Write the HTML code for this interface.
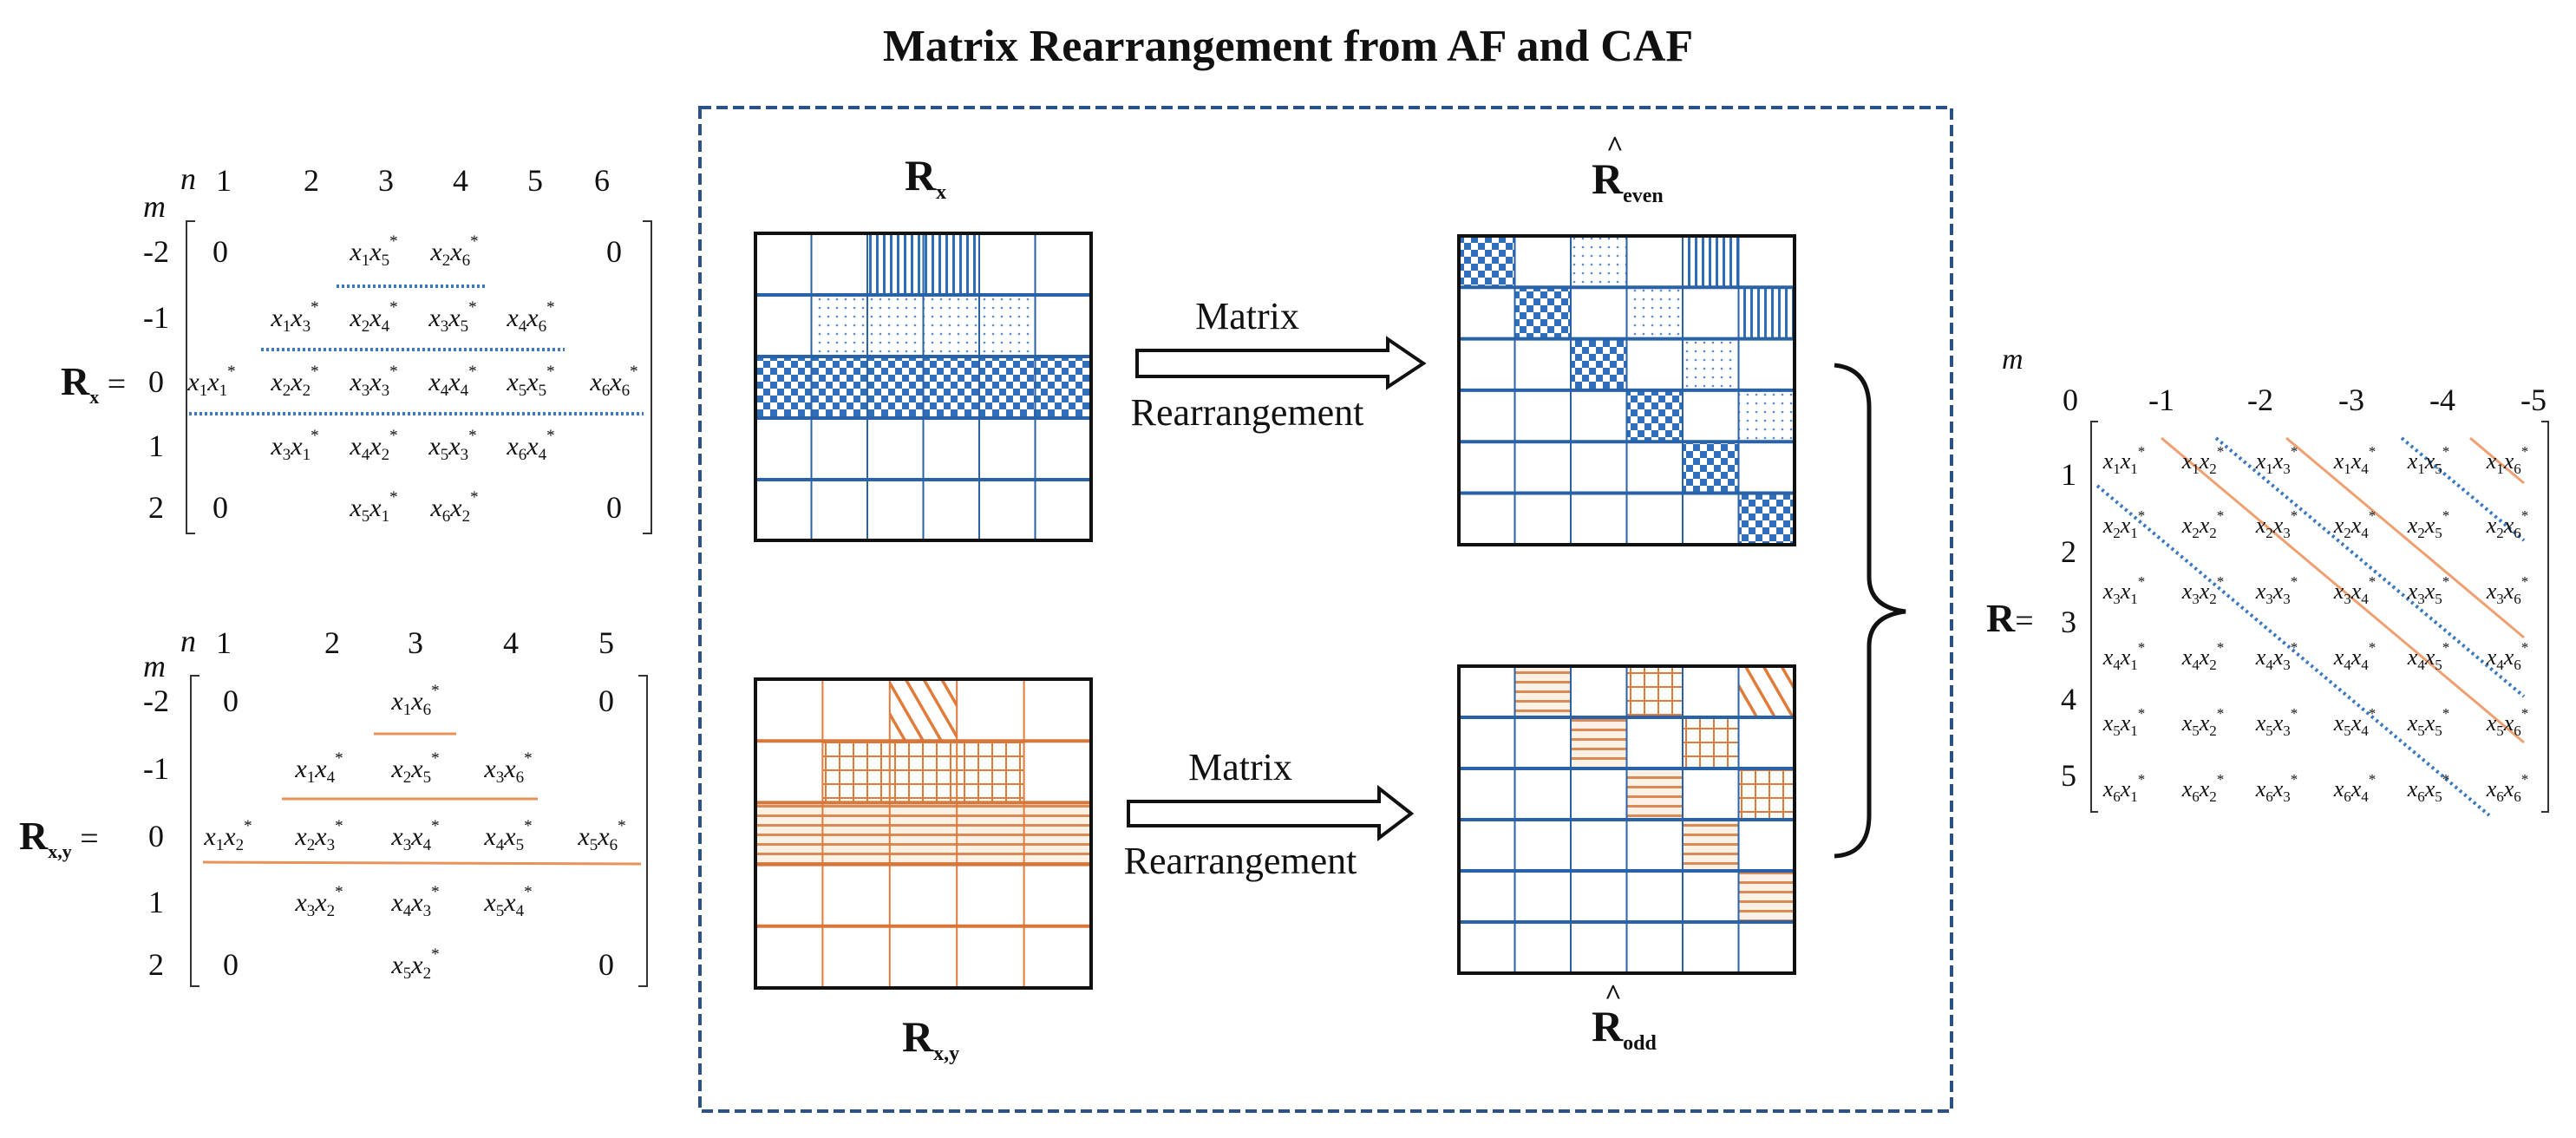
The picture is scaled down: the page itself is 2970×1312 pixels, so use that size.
<!DOCTYPE html>
<html><head><meta charset="utf-8"><style>
html,body{margin:0;padding:0;background:#fff}
svg{display:block}
text{font-family:"Liberation Serif",serif;fill:#111}
.e{font-style:italic;font-size:30px;text-anchor:middle}
.s{font-size:19px;font-style:normal}
.h{font-size:36px;text-anchor:middle}
.f{font-style:italic;font-size:26px;text-anchor:middle}
.fs{font-size:17px;font-style:normal}
</style></head><body>
<svg width="2970" height="1312" viewBox="0 0 2970 1312" xmlns="http://www.w3.org/2000/svg">
<defs>
<pattern id="ck" width="16" height="16" patternUnits="userSpaceOnUse"><rect width="16" height="16" fill="#fff"/><rect width="8" height="8" fill="#2f6fb8"/><rect x="8" y="8" width="8" height="8" fill="#2f6fb8"/></pattern>
<pattern id="vs" width="8" height="8" patternUnits="userSpaceOnUse"><rect width="8" height="8" fill="#fff"/><rect x="2" width="3" height="8" fill="#2f6fb8"/></pattern>
<pattern id="dt" width="10" height="10" patternUnits="userSpaceOnUse"><rect width="10" height="10" fill="#fff"/><circle cx="5" cy="5" r="1.3" fill="#5a8cc8"/></pattern>
<pattern id="hs" width="11" height="11" patternUnits="userSpaceOnUse"><rect width="11" height="11" fill="#fdf1e6"/><rect y="4" width="11" height="3" fill="#d98a55"/></pattern>
<pattern id="gr" width="16" height="16" patternUnits="userSpaceOnUse"><rect width="16" height="16" fill="#fff"/><rect x="7" width="2" height="16" fill="#e07b39"/><rect y="7" width="16" height="2" fill="#e07b39"/></pattern>
<pattern id="dg" width="18" height="18" patternUnits="userSpaceOnUse" patternTransform="rotate(-30)"><rect width="18" height="18" fill="#fff"/><rect x="7" width="3.5" height="18" fill="#e07b39"/></pattern>
</defs>

<text x="1485" y="70" style="font-size:52px;font-weight:bold;text-anchor:middle">Matrix Rearrangement from AF and CAF</text>

<rect x="807" y="124" width="1443" height="1157" fill="none" stroke="#2a5288" stroke-width="4" stroke-dasharray="13,6"/>

<!-- Rx grid -->
<text x="1043" y="219" style="font-size:50px;font-weight:bold">R<tspan dy="10" style="font-size:24px">x</tspan></text>
<rect x="1000" y="269" width="129" height="71" fill="url(#vs)"/>
<rect x="935.5" y="340" width="258" height="71" fill="url(#dt)"/>
<rect x="871" y="411" width="387" height="71" fill="url(#ck)"/>
<g stroke="#2a62a8" stroke-width="2"><line x1="935.5" y1="269" x2="935.5" y2="623"/><line x1="1000" y1="269" x2="1000" y2="623"/><line x1="1064.5" y1="269" x2="1064.5" y2="623"/><line x1="1129" y1="269" x2="1129" y2="623"/><line x1="1193.5" y1="269" x2="1193.5" y2="623"/></g>
<g stroke="#2a62a8" stroke-width="4"><line x1="871" y1="340" x2="1258" y2="340"/><line x1="871" y1="411" x2="1258" y2="411"/><line x1="871" y1="482" x2="1258" y2="482"/><line x1="871" y1="553" x2="1258" y2="553"/></g>
<rect x="871" y="269" width="387" height="354" fill="none" stroke="#111" stroke-width="4"/>

<!-- Reven -->
<text x="1835" y="223" style="font-size:50px;font-weight:bold">R<tspan dy="10" style="font-size:24px">even</tspan></text>
<text x="1852" y="180" style="font-size:34px;font-weight:bold">^</text>
<rect x="1682" y="272" width="64.5" height="59.3" fill="url(#ck)"/>
<rect x="1746.5" y="331.3" width="64.5" height="59.3" fill="url(#ck)"/>
<rect x="1811" y="390.6" width="64.5" height="59.3" fill="url(#ck)"/>
<rect x="1875.5" y="449.9" width="64.5" height="59.3" fill="url(#ck)"/>
<rect x="1940" y="509.2" width="64.5" height="59.3" fill="url(#ck)"/>
<rect x="2004.5" y="568.5" width="64.5" height="59.5" fill="url(#ck)"/>
<rect x="1811" y="272" width="64.5" height="59.3" fill="url(#dt)"/>
<rect x="1875.5" y="331.3" width="64.5" height="59.3" fill="url(#dt)"/>
<rect x="1940" y="390.6" width="64.5" height="59.3" fill="url(#dt)"/>
<rect x="2004.5" y="449.9" width="64.5" height="59.3" fill="url(#dt)"/>
<rect x="1940" y="272" width="64.5" height="59.3" fill="url(#vs)"/>
<rect x="2004.5" y="331.3" width="64.5" height="59.3" fill="url(#vs)"/>
<g stroke="#2a62a8" stroke-width="2"><line x1="1746.5" y1="272" x2="1746.5" y2="628"/><line x1="1811" y1="272" x2="1811" y2="628"/><line x1="1875.5" y1="272" x2="1875.5" y2="628"/><line x1="1940" y1="272" x2="1940" y2="628"/><line x1="2004.5" y1="272" x2="2004.5" y2="628"/></g>
<g stroke="#2a62a8" stroke-width="4"><line x1="1682" y1="331.3" x2="2069" y2="331.3"/><line x1="1682" y1="390.6" x2="2069" y2="390.6"/><line x1="1682" y1="449.9" x2="2069" y2="449.9"/><line x1="1682" y1="509.2" x2="2069" y2="509.2"/><line x1="1682" y1="568.5" x2="2069" y2="568.5"/></g>
<rect x="1682" y="272" width="387" height="356" fill="none" stroke="#111" stroke-width="4"/>

<!-- arrows -->
<path d="M1311,404 L1600,404 L1600,391 L1641,419 L1600,446 L1600,434 L1311,434 Z" fill="#fff" stroke="#111" stroke-width="4"/>
<text x="1438" y="379" style="font-size:44px;text-anchor:middle">Matrix</text>
<text x="1438" y="490" style="font-size:44px;text-anchor:middle">Rearrangement</text>
<path d="M1301,924 L1590,924 L1590,909 L1627,938 L1590,966 L1590,952 L1301,952 Z" fill="#fff" stroke="#111" stroke-width="4"/>
<text x="1430" y="899" style="font-size:44px;text-anchor:middle">Matrix</text>
<text x="1430" y="1007" style="font-size:44px;text-anchor:middle">Rearrangement</text>

<!-- Rxy grid -->
<rect x="1025.8" y="783" width="77.4" height="71.2" fill="url(#dg)"/>
<rect x="948.4" y="854.2" width="232.2" height="71.2" fill="url(#gr)"/>
<rect x="871" y="925.4" width="387" height="71.2" fill="url(#hs)"/>
<g stroke="#e07b39" stroke-width="2"><line x1="948.4" y1="783" x2="948.4" y2="1139"/><line x1="1025.8" y1="783" x2="1025.8" y2="1139"/><line x1="1103.2" y1="783" x2="1103.2" y2="1139"/><line x1="1180.6" y1="783" x2="1180.6" y2="1139"/></g>
<g stroke="#d8763a" stroke-width="4"><line x1="871" y1="854.2" x2="1258" y2="854.2"/><line x1="871" y1="925.4" x2="1258" y2="925.4"/><line x1="871" y1="996.6" x2="1258" y2="996.6"/><line x1="871" y1="1067.8" x2="1258" y2="1067.8"/></g>
<rect x="871" y="783" width="387" height="356" fill="none" stroke="#111" stroke-width="4"/>
<text x="1040" y="1212" style="font-size:50px;font-weight:bold">R<tspan dy="10" style="font-size:24px">x,y</tspan></text>

<!-- Rodd -->
<rect x="1746.5" y="768" width="64.5" height="59" fill="url(#hs)"/>
<rect x="1811" y="827" width="64.5" height="59" fill="url(#hs)"/>
<rect x="1875.5" y="886" width="64.5" height="59" fill="url(#hs)"/>
<rect x="1940" y="945" width="64.5" height="59" fill="url(#hs)"/>
<rect x="2004.5" y="1004" width="64.5" height="59" fill="url(#hs)"/>
<rect x="1875.5" y="768" width="64.5" height="59" fill="url(#gr)"/>
<rect x="1940" y="827" width="64.5" height="59" fill="url(#gr)"/>
<rect x="2004.5" y="886" width="64.5" height="59" fill="url(#gr)"/>
<rect x="2004.5" y="768" width="64.5" height="59" fill="url(#dg)"/>
<g stroke="#2a62a8" stroke-width="2"><line x1="1746.5" y1="768" x2="1746.5" y2="1122"/><line x1="1811" y1="768" x2="1811" y2="1122"/><line x1="1875.5" y1="768" x2="1875.5" y2="1122"/><line x1="1940" y1="768" x2="1940" y2="1122"/><line x1="2004.5" y1="768" x2="2004.5" y2="1122"/></g>
<g stroke="#2a62a8" stroke-width="4"><line x1="1682" y1="827" x2="2069" y2="827"/><line x1="1682" y1="886" x2="2069" y2="886"/><line x1="1682" y1="945" x2="2069" y2="945"/><line x1="1682" y1="1004" x2="2069" y2="1004"/><line x1="1682" y1="1063" x2="2069" y2="1063"/></g>
<rect x="1682" y="768" width="387" height="354" fill="none" stroke="#111" stroke-width="4"/>
<text x="1835" y="1200" style="font-size:50px;font-weight:bold">R<tspan dy="10" style="font-size:24px">odd</tspan></text>
<text x="1850" y="1158" style="font-size:34px;font-weight:bold">^</text>

<!-- brace -->
<path d="M2115,421 Q2155,425 2155,470 L2155,665 Q2155,700 2197,705 Q2155,710 2155,745 L2155,940 Q2155,985 2115,987" fill="none" stroke="#111" stroke-width="5"/>

<!-- Left Rx matrix -->
<text x="208" y="218" style="font-size:36px;font-style:italic">n</text>
<text x="165" y="250" style="font-size:36px;font-style:italic">m</text>
<text class="h" x="258" y="220">1</text><text class="h" x="359" y="220">2</text><text class="h" x="445" y="220">3</text><text class="h" x="531" y="220">4</text><text class="h" x="617" y="220">5</text><text class="h" x="694" y="220">6</text>
<text class="h" x="180" y="302">-2</text><text class="h" x="180" y="378">-1</text><text class="h" x="180" y="452">0</text><text class="h" x="180" y="526">1</text><text class="h" x="180" y="597">2</text>
<text x="70" y="455" style="font-size:46px;font-weight:bold">R<tspan dy="10" style="font-size:22px">x</tspan><tspan dy="-10" style="font-weight:normal;font-size:38px"> =</tspan></text>
<path d="M225,255 L215,255 L215,615 L225,615" fill="none" stroke="#333" stroke-width="2"/>
<path d="M741,255 L751,255 L751,615 L741,615" fill="none" stroke="#333" stroke-width="2"/>
<text class="h" x="254" y="302">0</text><text class="h" x="708" y="302">0</text><text class="h" x="254" y="597">0</text><text class="h" x="708" y="597">0</text>
<g class="e">
<text class="e" x="431" y="300">x<tspan dy="6" class="s">1</tspan><tspan dy="-6">x</tspan><tspan dy="6" class="s">5</tspan><tspan dy="-22" class="s">*</tspan></text>
<text class="e" x="524" y="300">x<tspan dy="6" class="s">2</tspan><tspan dy="-6">x</tspan><tspan dy="6" class="s">6</tspan><tspan dy="-22" class="s">*</tspan></text>
<text class="e" x="340" y="376">x<tspan dy="6" class="s">1</tspan><tspan dy="-6">x</tspan><tspan dy="6" class="s">3</tspan><tspan dy="-22" class="s">*</tspan></text>
<text class="e" x="431" y="376">x<tspan dy="6" class="s">2</tspan><tspan dy="-6">x</tspan><tspan dy="6" class="s">4</tspan><tspan dy="-22" class="s">*</tspan></text>
<text class="e" x="522" y="376">x<tspan dy="6" class="s">3</tspan><tspan dy="-6">x</tspan><tspan dy="6" class="s">5</tspan><tspan dy="-22" class="s">*</tspan></text>
<text class="e" x="612" y="376">x<tspan dy="6" class="s">4</tspan><tspan dy="-6">x</tspan><tspan dy="6" class="s">6</tspan><tspan dy="-22" class="s">*</tspan></text>
<text class="e" x="244" y="450">x<tspan dy="6" class="s">1</tspan><tspan dy="-6">x</tspan><tspan dy="6" class="s">1</tspan><tspan dy="-22" class="s">*</tspan></text>
<text class="e" x="340" y="450">x<tspan dy="6" class="s">2</tspan><tspan dy="-6">x</tspan><tspan dy="6" class="s">2</tspan><tspan dy="-22" class="s">*</tspan></text>
<text class="e" x="431" y="450">x<tspan dy="6" class="s">3</tspan><tspan dy="-6">x</tspan><tspan dy="6" class="s">3</tspan><tspan dy="-22" class="s">*</tspan></text>
<text class="e" x="522" y="450">x<tspan dy="6" class="s">4</tspan><tspan dy="-6">x</tspan><tspan dy="6" class="s">4</tspan><tspan dy="-22" class="s">*</tspan></text>
<text class="e" x="612" y="450">x<tspan dy="6" class="s">5</tspan><tspan dy="-6">x</tspan><tspan dy="6" class="s">5</tspan><tspan dy="-22" class="s">*</tspan></text>
<text class="e" x="708" y="450">x<tspan dy="6" class="s">6</tspan><tspan dy="-6">x</tspan><tspan dy="6" class="s">6</tspan><tspan dy="-22" class="s">*</tspan></text>
<text class="e" x="340" y="524">x<tspan dy="6" class="s">3</tspan><tspan dy="-6">x</tspan><tspan dy="6" class="s">1</tspan><tspan dy="-22" class="s">*</tspan></text>
<text class="e" x="431" y="524">x<tspan dy="6" class="s">4</tspan><tspan dy="-6">x</tspan><tspan dy="6" class="s">2</tspan><tspan dy="-22" class="s">*</tspan></text>
<text class="e" x="522" y="524">x<tspan dy="6" class="s">5</tspan><tspan dy="-6">x</tspan><tspan dy="6" class="s">3</tspan><tspan dy="-22" class="s">*</tspan></text>
<text class="e" x="612" y="524">x<tspan dy="6" class="s">6</tspan><tspan dy="-6">x</tspan><tspan dy="6" class="s">4</tspan><tspan dy="-22" class="s">*</tspan></text>
<text class="e" x="431" y="595">x<tspan dy="6" class="s">5</tspan><tspan dy="-6">x</tspan><tspan dy="6" class="s">1</tspan><tspan dy="-22" class="s">*</tspan></text>
<text class="e" x="524" y="595">x<tspan dy="6" class="s">6</tspan><tspan dy="-6">x</tspan><tspan dy="6" class="s">2</tspan><tspan dy="-22" class="s">*</tspan></text>
</g>
<g stroke="#3a78c0" stroke-width="4" stroke-dasharray="3,3"><line x1="388" y1="330" x2="560" y2="330"/><line x1="301" y1="403" x2="651" y2="403"/><line x1="218" y1="477" x2="742" y2="477"/></g>

<!-- Left Rxy matrix -->
<text x="208" y="751" style="font-size:36px;font-style:italic">n</text>
<text x="165" y="780" style="font-size:36px;font-style:italic">m</text>
<text class="h" x="258" y="753">1</text><text class="h" x="383" y="753">2</text><text class="h" x="479" y="753">3</text><text class="h" x="589" y="753">4</text><text class="h" x="699" y="753">5</text>
<text class="h" x="180" y="820">-2</text><text class="h" x="180" y="898">-1</text><text class="h" x="180" y="976">0</text><text class="h" x="180" y="1052">1</text><text class="h" x="180" y="1124">2</text>
<text x="22" y="979" style="font-size:46px;font-weight:bold">R<tspan dy="10" style="font-size:22px">x,y</tspan><tspan dy="-10" style="font-weight:normal;font-size:38px"> =</tspan></text>
<path d="M230,779 L220,779 L220,1137 L230,1137" fill="none" stroke="#333" stroke-width="2"/>
<path d="M736,779 L746,779 L746,1137 L736,1137" fill="none" stroke="#333" stroke-width="2"/>
<text class="h" x="266" y="820">0</text><text class="h" x="699" y="820">0</text><text class="h" x="266" y="1124">0</text><text class="h" x="699" y="1124">0</text>
<text class="e" x="479" y="818">x<tspan dy="6" class="s">1</tspan><tspan dy="-6">x</tspan><tspan dy="6" class="s">6</tspan><tspan dy="-22" class="s">*</tspan></text>
<text class="e" x="368" y="896">x<tspan dy="6" class="s">1</tspan><tspan dy="-6">x</tspan><tspan dy="6" class="s">4</tspan><tspan dy="-22" class="s">*</tspan></text>
<text class="e" x="479" y="896">x<tspan dy="6" class="s">2</tspan><tspan dy="-6">x</tspan><tspan dy="6" class="s">5</tspan><tspan dy="-22" class="s">*</tspan></text>
<text class="e" x="586" y="896">x<tspan dy="6" class="s">3</tspan><tspan dy="-6">x</tspan><tspan dy="6" class="s">6</tspan><tspan dy="-22" class="s">*</tspan></text>
<text class="e" x="263" y="974">x<tspan dy="6" class="s">1</tspan><tspan dy="-6">x</tspan><tspan dy="6" class="s">2</tspan><tspan dy="-22" class="s">*</tspan></text>
<text class="e" x="368" y="974">x<tspan dy="6" class="s">2</tspan><tspan dy="-6">x</tspan><tspan dy="6" class="s">3</tspan><tspan dy="-22" class="s">*</tspan></text>
<text class="e" x="479" y="974">x<tspan dy="6" class="s">3</tspan><tspan dy="-6">x</tspan><tspan dy="6" class="s">4</tspan><tspan dy="-22" class="s">*</tspan></text>
<text class="e" x="586" y="974">x<tspan dy="6" class="s">4</tspan><tspan dy="-6">x</tspan><tspan dy="6" class="s">5</tspan><tspan dy="-22" class="s">*</tspan></text>
<text class="e" x="694" y="974">x<tspan dy="6" class="s">5</tspan><tspan dy="-6">x</tspan><tspan dy="6" class="s">6</tspan><tspan dy="-22" class="s">*</tspan></text>
<text class="e" x="368" y="1050">x<tspan dy="6" class="s">3</tspan><tspan dy="-6">x</tspan><tspan dy="6" class="s">2</tspan><tspan dy="-22" class="s">*</tspan></text>
<text class="e" x="479" y="1050">x<tspan dy="6" class="s">4</tspan><tspan dy="-6">x</tspan><tspan dy="6" class="s">3</tspan><tspan dy="-22" class="s">*</tspan></text>
<text class="e" x="586" y="1050">x<tspan dy="6" class="s">5</tspan><tspan dy="-6">x</tspan><tspan dy="6" class="s">4</tspan><tspan dy="-22" class="s">*</tspan></text>
<text class="e" x="479" y="1122">x<tspan dy="6" class="s">5</tspan><tspan dy="-6">x</tspan><tspan dy="6" class="s">2</tspan><tspan dy="-22" class="s">*</tspan></text>
<g stroke="#e8925a" stroke-width="3"><line x1="431" y1="846" x2="526" y2="846"/><line x1="325" y1="921" x2="620" y2="921"/><line x1="234" y1="994" x2="739" y2="996"/></g>

<!-- Right R matrix -->
<text x="2308" y="425" style="font-size:34px;font-style:italic">m</text>
<text class="h" x="2387" y="473">0</text><text class="h" x="2492" y="473">-1</text><text class="h" x="2606" y="473">-2</text><text class="h" x="2711" y="473">-3</text><text class="h" x="2816" y="473">-4</text><text class="h" x="2921" y="473">-5</text>
<text class="h" x="2385" y="559">1</text><text class="h" x="2385" y="648">2</text><text class="h" x="2385" y="729">3</text><text class="h" x="2385" y="818">4</text><text class="h" x="2385" y="906">5</text>
<text x="2290" y="728" style="font-size:46px;font-weight:bold">R<tspan style="font-weight:normal;font-size:38px">=</tspan></text>
<path d="M2419,486 L2411,486 L2411,936 L2419,936" fill="none" stroke="#333" stroke-width="2"/>
<path d="M2930,486 L2938,486 L2938,936 L2930,936" fill="none" stroke="#333" stroke-width="2"/>
<g stroke="#3a78c0" stroke-width="4" stroke-dasharray="3,4"><line x1="2418" y1="560" x2="2870" y2="940"/><line x1="2555" y1="505" x2="2910" y2="803"/><line x1="2769" y1="505" x2="2910" y2="623"/></g>
<g stroke="#f0a070" stroke-width="3"><line x1="2492" y1="505" x2="2910" y2="856"/><line x1="2636" y1="505" x2="2910" y2="735"/><line x1="2848" y1="505" x2="2910" y2="557"/></g>
<g>
<text class="f" x="2449" y="540">x<tspan dy="6" class="fs">1</tspan><tspan dy="-6">x</tspan><tspan dy="6" class="fs">1</tspan><tspan dy="-20" class="fs">*</tspan></text>
<text class="f" x="2540" y="540">x<tspan dy="6" class="fs">1</tspan><tspan dy="-6">x</tspan><tspan dy="6" class="fs">2</tspan><tspan dy="-20" class="fs">*</tspan></text>
<text class="f" x="2625" y="540">x<tspan dy="6" class="fs">1</tspan><tspan dy="-6">x</tspan><tspan dy="6" class="fs">3</tspan><tspan dy="-20" class="fs">*</tspan></text>
<text class="f" x="2715" y="540">x<tspan dy="6" class="fs">1</tspan><tspan dy="-6">x</tspan><tspan dy="6" class="fs">4</tspan><tspan dy="-20" class="fs">*</tspan></text>
<text class="f" x="2800" y="540">x<tspan dy="6" class="fs">1</tspan><tspan dy="-6">x</tspan><tspan dy="6" class="fs">5</tspan><tspan dy="-20" class="fs">*</tspan></text>
<text class="f" x="2891" y="540">x<tspan dy="6" class="fs">1</tspan><tspan dy="-6">x</tspan><tspan dy="6" class="fs">6</tspan><tspan dy="-20" class="fs">*</tspan></text>
<text class="f" x="2449" y="614">x<tspan dy="6" class="fs">2</tspan><tspan dy="-6">x</tspan><tspan dy="6" class="fs">1</tspan><tspan dy="-20" class="fs">*</tspan></text>
<text class="f" x="2540" y="614">x<tspan dy="6" class="fs">2</tspan><tspan dy="-6">x</tspan><tspan dy="6" class="fs">2</tspan><tspan dy="-20" class="fs">*</tspan></text>
<text class="f" x="2625" y="614">x<tspan dy="6" class="fs">2</tspan><tspan dy="-6">x</tspan><tspan dy="6" class="fs">3</tspan><tspan dy="-20" class="fs">*</tspan></text>
<text class="f" x="2715" y="614">x<tspan dy="6" class="fs">2</tspan><tspan dy="-6">x</tspan><tspan dy="6" class="fs">4</tspan><tspan dy="-20" class="fs">*</tspan></text>
<text class="f" x="2800" y="614">x<tspan dy="6" class="fs">2</tspan><tspan dy="-6">x</tspan><tspan dy="6" class="fs">5</tspan><tspan dy="-20" class="fs">*</tspan></text>
<text class="f" x="2891" y="614">x<tspan dy="6" class="fs">2</tspan><tspan dy="-6">x</tspan><tspan dy="6" class="fs">6</tspan><tspan dy="-20" class="fs">*</tspan></text>
<text class="f" x="2449" y="690">x<tspan dy="6" class="fs">3</tspan><tspan dy="-6">x</tspan><tspan dy="6" class="fs">1</tspan><tspan dy="-20" class="fs">*</tspan></text>
<text class="f" x="2540" y="690">x<tspan dy="6" class="fs">3</tspan><tspan dy="-6">x</tspan><tspan dy="6" class="fs">2</tspan><tspan dy="-20" class="fs">*</tspan></text>
<text class="f" x="2625" y="690">x<tspan dy="6" class="fs">3</tspan><tspan dy="-6">x</tspan><tspan dy="6" class="fs">3</tspan><tspan dy="-20" class="fs">*</tspan></text>
<text class="f" x="2715" y="690">x<tspan dy="6" class="fs">3</tspan><tspan dy="-6">x</tspan><tspan dy="6" class="fs">4</tspan><tspan dy="-20" class="fs">*</tspan></text>
<text class="f" x="2800" y="690">x<tspan dy="6" class="fs">3</tspan><tspan dy="-6">x</tspan><tspan dy="6" class="fs">5</tspan><tspan dy="-20" class="fs">*</tspan></text>
<text class="f" x="2891" y="690">x<tspan dy="6" class="fs">3</tspan><tspan dy="-6">x</tspan><tspan dy="6" class="fs">6</tspan><tspan dy="-20" class="fs">*</tspan></text>
<text class="f" x="2449" y="766">x<tspan dy="6" class="fs">4</tspan><tspan dy="-6">x</tspan><tspan dy="6" class="fs">1</tspan><tspan dy="-20" class="fs">*</tspan></text>
<text class="f" x="2540" y="766">x<tspan dy="6" class="fs">4</tspan><tspan dy="-6">x</tspan><tspan dy="6" class="fs">2</tspan><tspan dy="-20" class="fs">*</tspan></text>
<text class="f" x="2625" y="766">x<tspan dy="6" class="fs">4</tspan><tspan dy="-6">x</tspan><tspan dy="6" class="fs">3</tspan><tspan dy="-20" class="fs">*</tspan></text>
<text class="f" x="2715" y="766">x<tspan dy="6" class="fs">4</tspan><tspan dy="-6">x</tspan><tspan dy="6" class="fs">4</tspan><tspan dy="-20" class="fs">*</tspan></text>
<text class="f" x="2800" y="766">x<tspan dy="6" class="fs">4</tspan><tspan dy="-6">x</tspan><tspan dy="6" class="fs">5</tspan><tspan dy="-20" class="fs">*</tspan></text>
<text class="f" x="2891" y="766">x<tspan dy="6" class="fs">4</tspan><tspan dy="-6">x</tspan><tspan dy="6" class="fs">6</tspan><tspan dy="-20" class="fs">*</tspan></text>
<text class="f" x="2449" y="842">x<tspan dy="6" class="fs">5</tspan><tspan dy="-6">x</tspan><tspan dy="6" class="fs">1</tspan><tspan dy="-20" class="fs">*</tspan></text>
<text class="f" x="2540" y="842">x<tspan dy="6" class="fs">5</tspan><tspan dy="-6">x</tspan><tspan dy="6" class="fs">2</tspan><tspan dy="-20" class="fs">*</tspan></text>
<text class="f" x="2625" y="842">x<tspan dy="6" class="fs">5</tspan><tspan dy="-6">x</tspan><tspan dy="6" class="fs">3</tspan><tspan dy="-20" class="fs">*</tspan></text>
<text class="f" x="2715" y="842">x<tspan dy="6" class="fs">5</tspan><tspan dy="-6">x</tspan><tspan dy="6" class="fs">4</tspan><tspan dy="-20" class="fs">*</tspan></text>
<text class="f" x="2800" y="842">x<tspan dy="6" class="fs">5</tspan><tspan dy="-6">x</tspan><tspan dy="6" class="fs">5</tspan><tspan dy="-20" class="fs">*</tspan></text>
<text class="f" x="2891" y="842">x<tspan dy="6" class="fs">5</tspan><tspan dy="-6">x</tspan><tspan dy="6" class="fs">6</tspan><tspan dy="-20" class="fs">*</tspan></text>
<text class="f" x="2449" y="918">x<tspan dy="6" class="fs">6</tspan><tspan dy="-6">x</tspan><tspan dy="6" class="fs">1</tspan><tspan dy="-20" class="fs">*</tspan></text>
<text class="f" x="2540" y="918">x<tspan dy="6" class="fs">6</tspan><tspan dy="-6">x</tspan><tspan dy="6" class="fs">2</tspan><tspan dy="-20" class="fs">*</tspan></text>
<text class="f" x="2625" y="918">x<tspan dy="6" class="fs">6</tspan><tspan dy="-6">x</tspan><tspan dy="6" class="fs">3</tspan><tspan dy="-20" class="fs">*</tspan></text>
<text class="f" x="2715" y="918">x<tspan dy="6" class="fs">6</tspan><tspan dy="-6">x</tspan><tspan dy="6" class="fs">4</tspan><tspan dy="-20" class="fs">*</tspan></text>
<text class="f" x="2800" y="918">x<tspan dy="6" class="fs">6</tspan><tspan dy="-6">x</tspan><tspan dy="6" class="fs">5</tspan><tspan dy="-20" class="fs">*</tspan></text>
<text class="f" x="2891" y="918">x<tspan dy="6" class="fs">6</tspan><tspan dy="-6">x</tspan><tspan dy="6" class="fs">6</tspan><tspan dy="-20" class="fs">*</tspan></text>
</g>
</svg>
</body></html>
